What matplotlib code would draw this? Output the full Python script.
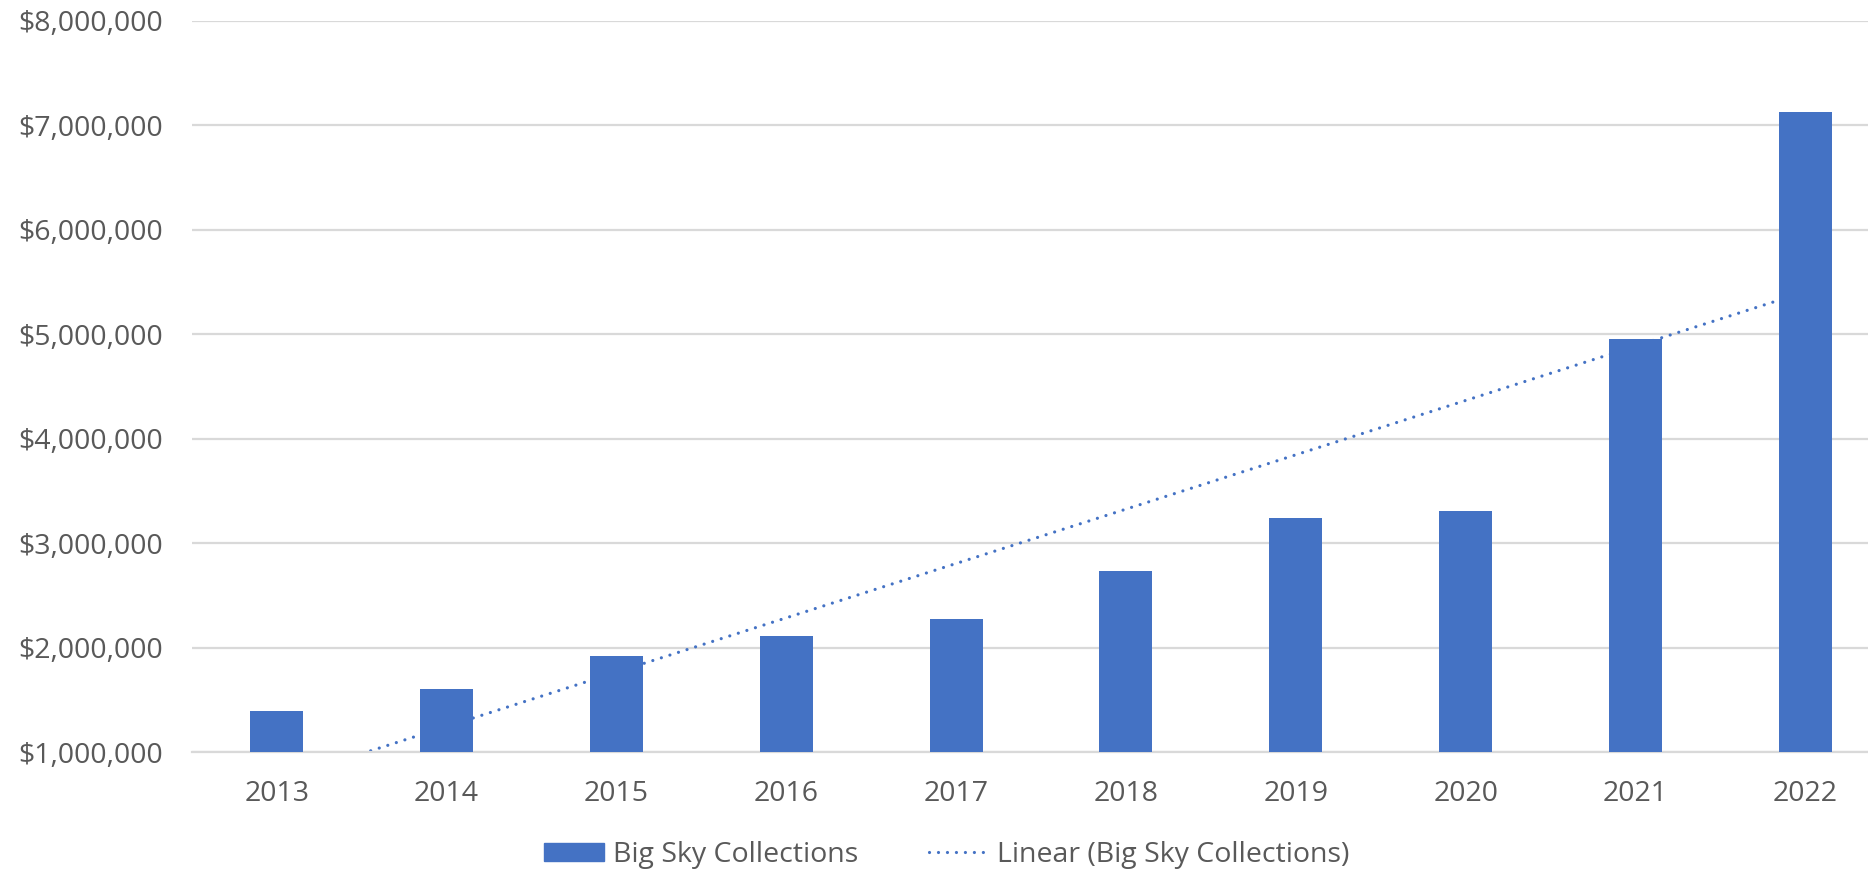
import numpy as np
import matplotlib.pyplot as plt
from matplotlib.ticker import FuncFormatter
from matplotlib.lines import Line2D
from matplotlib.patches import Patch

years = ['2013', '2014', '2015', '2016', '2017', '2018', '2019', '2020', '2021', '2022']
collections = [1390000, 1600000, 1920000, 2110000, 2270000, 2730000, 3240000, 3310000, 4950000, 7120000]

bar_color = '#4472C4'
text_color = '#595959'
grid_color = '#D9D9D9'

plt.rcParams['font.family'] = ['Open Sans', 'DejaVu Sans']

fig = plt.figure(figsize=(18.68, 8.72), dpi=100)
ax = fig.add_axes([191.7 / 1868, 120 / 872, (1890.4 - 191.7) / 1868, (851.5 - 120) / 872])

x = np.arange(len(years))
ax.bar(x, collections, width=0.312, color=bar_color, zorder=3)

# linear trendline, like excel does it
slope, icpt = np.polyfit(x, collections, 1)
dots = (0, (0.01, 2.8))
ax.plot(x, slope * x + icpt, color=bar_color, lw=2.3,
        linestyle=dots, dash_capstyle='round', zorder=2)

ax.set_xlim(-0.5, len(years) - 0.5)
ax.set_ylim(1000000, 8000000)
ax.set_yticks(np.arange(1000000, 8000001, 1000000))
ax.yaxis.set_major_formatter(FuncFormatter(lambda v, p: '${:,.0f}'.format(v)))
ax.set_xticks(x)
ax.set_xticklabels(years)

ax.grid(axis='y', color=grid_color, lw=1.6, zorder=0)
ax.set_axisbelow(True)
for s in ['top', 'right', 'left']:
    ax.spines[s].set_visible(False)
ax.spines['bottom'].set_color(grid_color)
ax.spines['bottom'].set_linewidth(1.6)
ax.tick_params(axis='both', length=0, colors=text_color, labelsize=20.5)
ax.tick_params(axis='y', pad=21)
ax.tick_params(axis='x', pad=20)

handles = [Patch(color=bar_color, label='Big Sky Collections'),
           Line2D([], [], color=bar_color, lw=2.3, linestyle=dots,
                  dash_capstyle='round', label='Linear (Big Sky Collections)')]
fig.legend(handles=handles, loc='center', bbox_to_anchor=(0.507, 0.0195), ncol=2,
           frameon=False, fontsize=20.5, labelcolor=text_color, handlelength=2.1,
           handleheight=0.6, handletextpad=0.3, columnspacing=2.5)

fig.savefig('out.png', dpi=100)
